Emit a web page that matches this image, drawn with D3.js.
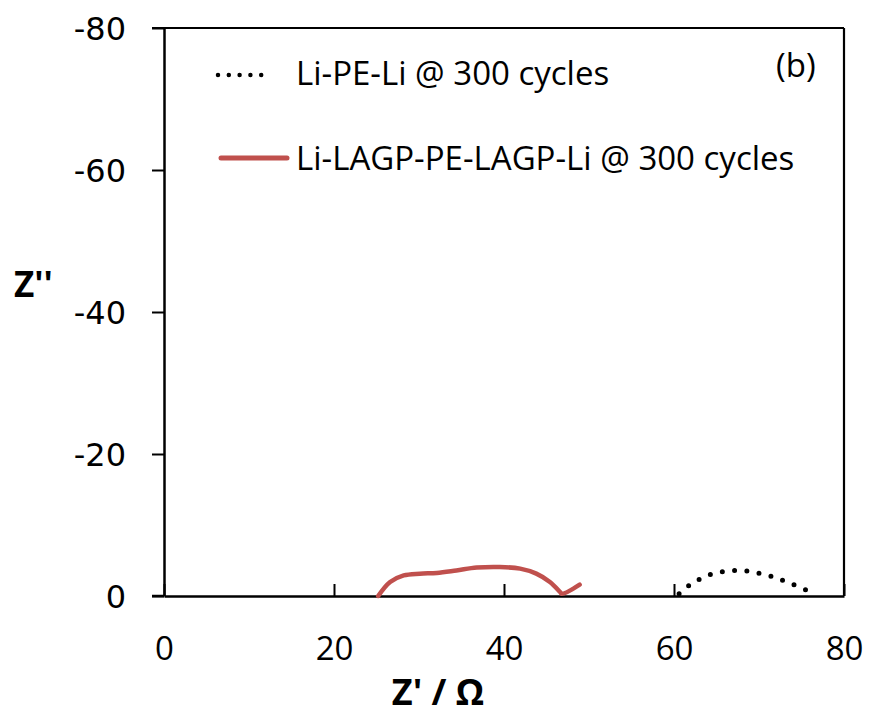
<!DOCTYPE html>
<html>
<head>
<meta charset="utf-8">
<script src="https://cdn.jsdelivr.net/npm/d3@7"></script>
<style>
  html, body { margin: 0; padding: 0; background: #fff; }
  svg { display: block; }
</style>
</head>
<body>
<svg id="chart" width="870" height="715"></svg>
<script>
// ---- data ----
const xTicks = [0, 20, 40, 60, 80];
const yTicks = [0, -20, -40, -60, -80];
const seriesNames = ["Li-PE-Li @ 300 cycles", "Li-LAGP-PE-LAGP-Li @ 300 cycles"];
// Li-PE-Li (dotted, black): Z' and Z''
const peX = [60.6, 61.7, 62.9, 64.2, 65.6, 67.1, 68.6, 70.0, 71.4, 72.8, 74.2, 75.5];
const peY = [-0.33, -1.41, -2.3, -3.0, -3.4, -3.6, -3.5, -3.2, -2.8, -2.2, -1.55, -0.85];
// Li-LAGP-PE-LAGP-Li (solid, red)
const lagpX = [25.2, 26.6, 28.2, 30.1, 32.1, 34.4, 36.8, 39.5, 41.9, 43.8, 45.4, 46.6, 46.8, 48.9];
const lagpY = [0, -1.97, -2.9, -3.15, -3.25, -3.6, -4.0, -4.08, -3.85, -3.15, -1.97, -0.56, -0.3, -1.6];
const panelLabel = "(b)";
const xTitle = "Z' / \u03A9";
const yTitle = "Z''";

// ---- layout ----
const mLeft = 164, mRight = 844, mTop = 28, mBottom = 596;
const svg = d3.select("#chart");
const x = d3.scaleLinear().domain([0, 80]).range([mLeft, mRight]);
const y = d3.scaleLinear().domain([0, -80]).range([mBottom, mTop]);
const redCol = "#C0504D";
const tickFont = "'Open Sans', sans-serif";

// frame top & right
svg.append("line").attr("x1", mLeft - 12).attr("x2", mRight).attr("y1", mTop).attr("y2", mTop)
  .attr("stroke", "#000").attr("stroke-width", 2.2);
svg.append("line").attr("x1", mRight).attr("x2", mRight).attr("y1", mTop).attr("y2", mBottom)
  .attr("stroke", "#000").attr("stroke-width", 2.2);

// y axis (ticks outward)
const yAxis = svg.append("g").attr("transform", `translate(${mLeft},0)`)
  .call(d3.axisLeft(y).tickValues(yTicks).tickSize(12).tickSizeOuter(0).tickFormat(d3.format("d")));
yAxis.select(".domain").attr("stroke", "#000").attr("stroke-width", 2.5);
yAxis.selectAll(".tick line").attr("stroke", "#000").attr("stroke-width", 2);
yAxis.selectAll(".tick text").attr("x", -38).attr("dy", "0.36em")
  .attr("font-family", "'DejaVu Sans', sans-serif").attr("font-size", 32).attr("fill", "#000")
  .text(d => d === 0 ? "0" : "-" + Math.abs(d));

// x axis (ticks inward)
const xAxis = svg.append("g").attr("transform", `translate(0,${mBottom})`)
  .call(d3.axisBottom(x).tickValues(xTicks).tickSize(-12).tickSizeOuter(0).tickFormat(d3.format("d")));
xAxis.select(".domain").attr("stroke", "#000").attr("stroke-width", 2.5);
xAxis.selectAll(".tick line").attr("stroke", "#000").attr("stroke-width", 2);
xAxis.selectAll(".tick text").attr("y", 64).attr("dy", 0)
  .attr("font-family", tickFont).attr("font-size", 33).attr("fill", "#000");
// extend x axis line to the left under the y tick
svg.append("line").attr("x1", mLeft - 12).attr("x2", mLeft).attr("y1", mBottom).attr("y2", mBottom)
  .attr("stroke", "#000").attr("stroke-width", 2.5);

// axis titles
svg.append("text").attr("x", 438).attr("y", 705).attr("text-anchor", "middle")
  .attr("font-family", tickFont).attr("font-weight", "bold").attr("font-size", 36).text(xTitle);
svg.append("text").attr("x", 14).attr("y", 297)
  .attr("font-family", tickFont).attr("font-weight", "bold").attr("font-size", 35).text(yTitle);

// series
const line = d3.line().x(d => x(d[0])).y(d => y(d[1])).curve(d3.curveCatmullRom.alpha(0.5));
const pe = peX.map((v, i) => [v, peY[i]]);
const lagp = lagpX.map((v, i) => [v, lagpY[i]]);

svg.append("path").datum(lagp).attr("d", line).attr("fill", "none")
  .attr("stroke", redCol).attr("stroke-width", 4.5).attr("stroke-linecap", "round").attr("stroke-linejoin", "round");
svg.append("path").datum(pe).attr("d", line).attr("fill", "none")
  .attr("stroke", "#000").attr("stroke-width", 5).attr("stroke-linecap", "round")
  .attr("stroke-dasharray", "0 12.3");

// legend
const lg = svg.append("g");
lg.append("line").attr("x1", 218).attr("x2", 272).attr("y1", 75).attr("y2", 75)
  .attr("stroke", "#000").attr("stroke-width", 4.5).attr("stroke-linecap", "round")
  .attr("stroke-dasharray", "0 10.8");
lg.append("text").attr("x", 296).attr("y", 85).attr("font-family", tickFont).attr("font-size", 33)
  .text(seriesNames[0]);
lg.append("line").attr("x1", 221).attr("x2", 287).attr("y1", 158).attr("y2", 158)
  .attr("stroke", redCol).attr("stroke-width", 5).attr("stroke-linecap", "round");
lg.append("text").attr("x", 296).attr("y", 170).attr("font-family", tickFont).attr("font-size", 33)
  .text(seriesNames[1]);

svg.append("text").attr("x", 776).attr("y", 77).attr("font-family", tickFont).attr("font-size", 33)
  .text(panelLabel);
</script>
</body>
</html>
